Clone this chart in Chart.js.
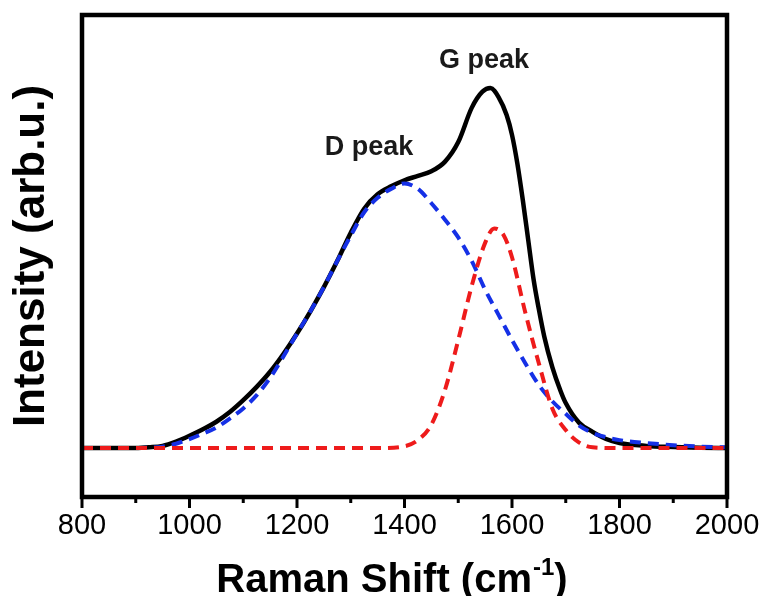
<!DOCTYPE html>
<html>
<head>
<meta charset="utf-8">
<script src="https://cdn.jsdelivr.net/npm/chart.js@4.4.1/dist/chart.umd.min.js"></script>
<style>
  html, body { margin: 0; padding: 0; background: #fff; }
  #wrap { width: 763px; height: 596px; position: relative; }
</style>
</head>
<body>
<div id="wrap"><canvas id="ramanChart"></canvas></div>
<script>
// Raman spectrum (black, measured) and its two fitted components
const measuredShift = [800, 850, 900, 925, 950, 975, 1000, 1025, 1050, 1075, 1100, 1125, 1150, 1175, 1200,
    1225, 1250, 1275, 1300, 1325, 1350, 1375, 1400, 1425, 1450, 1475, 1500, 1525, 1545, 1560, 1575, 1590,
    1600, 1610, 1620, 1630, 1640, 1650, 1660, 1675, 1690, 1700, 1725, 1750, 1775, 1800, 1850, 1900, 1950, 2000];
const measuredIntensity = [0, 0, 0, 0.002, 0.006, 0.018, 0.034, 0.052, 0.073, 0.1, 0.133, 0.17, 0.212, 0.262, 0.318,
    0.38, 0.447, 0.52, 0.598, 0.665, 0.705, 0.727, 0.744, 0.756, 0.769, 0.795, 0.85, 0.945, 0.99, 1.0, 0.975, 0.925,
    0.87, 0.79, 0.69, 0.58, 0.47, 0.385, 0.31, 0.225, 0.16, 0.125, 0.07, 0.045, 0.025, 0.014, 0.006, 0.003, 0.001, 0];

const dPeakShift = [800, 900, 925, 950, 975, 1000, 1025, 1050, 1075, 1100, 1125, 1150, 1175, 1200, 1225, 1250,
    1275, 1300, 1325, 1350, 1375, 1400, 1425, 1450, 1475, 1500, 1525, 1550, 1575, 1600, 1625, 1650, 1675, 1700,
    1725, 1750, 1775, 1800, 1850, 1900, 1950, 2000];
const dPeakIntensity = [0, 0, 0.001, 0.004, 0.012, 0.025, 0.04, 0.057, 0.082, 0.11, 0.147, 0.195, 0.255, 0.318, 0.38,
    0.447, 0.52, 0.59, 0.655, 0.695, 0.72, 0.735, 0.72, 0.68, 0.635, 0.585, 0.52, 0.44, 0.37, 0.30, 0.235, 0.175,
    0.13, 0.095, 0.062, 0.042, 0.03, 0.022, 0.014, 0.008, 0.004, 0.002];

const gPeakShift = [800, 1350, 1400, 1425, 1450, 1475, 1500, 1525, 1550, 1567, 1585, 1600, 1625, 1650, 1675,
    1700, 1725, 1750, 1800, 2000];
const gPeakIntensity = [0, 0, 0.005, 0.022, 0.065, 0.16, 0.30, 0.45, 0.57, 0.61, 0.59, 0.53, 0.375, 0.235, 0.11,
    0.05, 0.015, 0.002, 0, 0];

const xTicks = [800, 1000, 1200, 1400, 1600, 1800, 2000];
const xMinorTicks = [900, 1100, 1300, 1500, 1700, 1900];

const peakLabels = [
    { text: 'D peak', x: 1334, y: 0.815 },
    { text: 'G peak', x: 1548, y: 1.056 }
];

const FONT = "'Liberation Sans', Arial, sans-serif";

function toPoints(xs, ys) {
    return xs.map((x, i) => ({ x: x, y: ys[i] }));
}

// frame, tick marks, peak labels and x title with superscript
const framePlugin = {
    id: 'frame',
    afterDraw(chart) {
        const { ctx, chartArea: a } = chart;
        const xs = chart.scales.x;
        const ys = chart.scales.y;
        ctx.save();
        ctx.strokeStyle = '#000';
        ctx.lineWidth = 4.5;
        ctx.strokeRect(a.left, a.top, a.right - a.left, a.bottom - a.top);

        ctx.lineWidth = 3;
        xTicks.forEach(v => {
            const px = xs.getPixelForValue(v);
            ctx.beginPath();
            ctx.moveTo(px, a.bottom);
            ctx.lineTo(px, a.bottom + 11);
            ctx.stroke();
        });
        xMinorTicks.forEach(v => {
            const px = xs.getPixelForValue(v);
            ctx.beginPath();
            ctx.moveTo(px, a.bottom);
            ctx.lineTo(px, a.bottom + 6);
            ctx.stroke();
        });

        ctx.fillStyle = '#1a1a1a';
        ctx.font = 'bold 27px ' + FONT;
        ctx.textAlign = 'center';
        ctx.textBaseline = 'alphabetic';
        peakLabels.forEach(l => {
            ctx.fillText(l.text, xs.getPixelForValue(l.x), ys.getPixelForValue(l.y));
        });

        // x axis title: Raman Shift (cm^-1)
        const main = 'Raman Shift (cm';
        const sup = '-1';
        const close = ')';
        ctx.fillStyle = '#000';
        ctx.textAlign = 'left';
        ctx.font = 'bold 40px ' + FONT;
        const wMain = ctx.measureText(main).width;
        const wClose = ctx.measureText(close).width;
        ctx.font = 'bold 24px ' + FONT;
        const wSup = ctx.measureText(sup).width;
        const total = wMain + wSup + wClose;
        const cx = (a.left + a.right) / 2 - 13;
        const base = chart.height - 4;
        let x0 = cx - total / 2;
        ctx.font = 'bold 40px ' + FONT;
        ctx.fillText(main, x0, base);
        ctx.font = 'bold 24px ' + FONT;
        ctx.fillText(sup, x0 + wMain + 1, base - 17);
        ctx.font = 'bold 40px ' + FONT;
        ctx.fillText(close, x0 + wMain + wSup + 1, base);
        ctx.restore();
    }
};

document.addEventListener('DOMContentLoaded', function() {
    const ctx = document.getElementById('ramanChart').getContext('2d');
    new Chart(ctx, {
        type: 'line',
        data: {
            datasets: [
                {
                    label: 'G fit',
                    data: toPoints(gPeakShift, gPeakIntensity),
                    borderColor: '#ee1b1b',
                    borderWidth: 4,
                    borderDash: [11, 7],
                    pointRadius: 0,
                    cubicInterpolationMode: 'monotone',
                    order: 1
                },
                {
                    label: 'D fit',
                    data: toPoints(dPeakShift, dPeakIntensity),
                    borderColor: '#1530e6',
                    borderWidth: 4,
                    borderDash: [11, 7],
                    pointRadius: 0,
                    cubicInterpolationMode: 'monotone',
                    order: 2
                },
                {
                    label: 'Measured',
                    data: toPoints(measuredShift, measuredIntensity),
                    borderColor: '#000',
                    borderWidth: 4.5,
                    pointRadius: 0,
                    cubicInterpolationMode: 'monotone',
                    order: 3
                }
            ]
        },
        options: {
            responsive: true,
            maintainAspectRatio: false,
            animation: false,
            layout: { padding: { top: 15, right: 36, left: 0, bottom: 0 } },
            plugins: {
                legend: { display: false },
                tooltip: { enabled: false }
            },
            scales: {
                x: {
                    type: 'linear',
                    min: 800,
                    max: 2000,
                    afterBuildTicks: scale => {
                        scale.ticks = xTicks.map(v => ({ value: v }));
                    },
                    afterFit: scale => {
                        scale.height = 99;
                        scale.paddingLeft = 0;
                        scale.paddingRight = 0;
                    },
                    grid: { display: false, drawTicks: false },
                    border: { display: false },
                    ticks: {
                        padding: 12,
                        color: '#000',
                        font: { family: FONT, size: 29 },
                        callback: v => String(v)
                    }
                },
                y: {
                    min: -0.136,
                    max: 1.203,
                    afterFit: scale => { scale.width = 82; },
                    grid: { display: false, drawTicks: false },
                    border: { display: false },
                    ticks: { display: false },
                    title: {
                        display: true,
                        text: 'Intensity (arb.u.)',
                        color: '#000',
                        padding: { top: 5, bottom: 0 },
                        font: { family: FONT, size: 44, weight: 'bold' }
                    }
                }
            }
        },
        plugins: [framePlugin]
    });
});
</script>
</body>
</html>
